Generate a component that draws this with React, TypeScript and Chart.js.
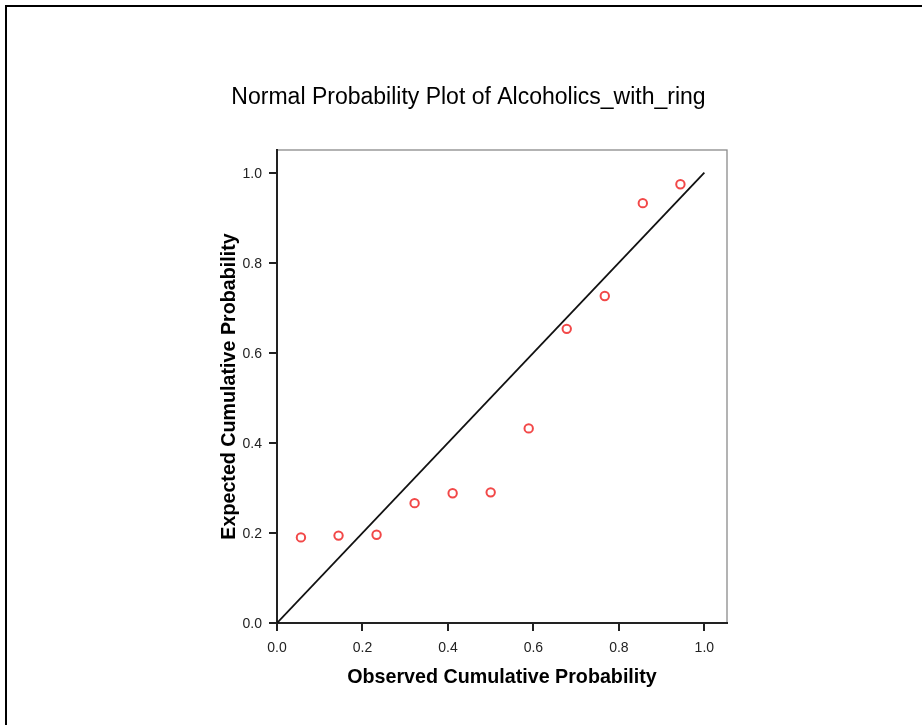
import React, { useEffect, useRef } from "react";
import { Chart, registerables } from "chart.js";

Chart.register(...registerables);

const chartTitle = "Normal Probability Plot of Alcoholics_with_ring";
const xTitle = "Observed Cumulative Probability";
const yTitle = "Expected Cumulative Probability";

const observed = [0.056, 0.144, 0.233, 0.322, 0.411, 0.5, 0.589, 0.678, 0.767, 0.856, 0.944];
const expected = [0.19, 0.194, 0.196, 0.266, 0.288, 0.29, 0.432, 0.653, 0.726, 0.932, 0.974];
const refLineX = [0, 1];
const refLineY = [0, 1];
const xTicks = [0, 0.2, 0.4, 0.6, 0.8, 1.0];
const yTicks = [0, 0.2, 0.4, 0.6, 0.8, 1.0];

const FONT = "'Liberation Sans', Arial, sans-serif";

export default function App() {
  const ref = useRef<HTMLCanvasElement | null>(null);

  useEffect(() => {
    if (!ref.current) return;
    const framePlugin = {
      id: "frame",
      beforeDraw(chart: any) {
        const { ctx, chartArea } = chart;
        ctx.save();
        ctx.fillStyle = "#000";
        ctx.fillRect(5, 5, 2, 725);
        ctx.fillRect(5, 5, 922, 2);
        ctx.strokeStyle = "#8a8a8a";
        ctx.lineWidth = 1.3;
        ctx.strokeRect(chartArea.left, chartArea.top, chartArea.right - chartArea.left, chartArea.bottom - chartArea.top);
        ctx.restore();
      },
    };

    const chart = new Chart(ref.current, {
      type: "scatter",
      data: {
        datasets: [
          {
            type: "line",
            data: refLineX.map((x, i) => ({ x, y: refLineY[i] })),
            borderColor: "#111",
            borderWidth: 1.8,
            pointRadius: 0,
            fill: false,
          } as any,
          {
            type: "scatter",
            data: observed.map((x, i) => ({ x, y: expected[i] })),
            borderColor: "rgb(242,72,72)",
            backgroundColor: "rgba(0,0,0,0)",
            pointRadius: 4.2,
            pointBorderWidth: 2,
            pointStyle: "circle",
          },
        ],
      },
      options: {
        animation: false,
        responsive: false,
        devicePixelRatio: 1,
        layout: { padding: { top: 0, left: 210, right: 195, bottom: 29 } },
        plugins: {
          legend: { display: false },
          tooltip: { enabled: false },
          title: {
            display: true,
            text: chartTitle,
            color: "#000",
            font: { family: FONT, size: 23, weight: "normal" },
            padding: { top: 84, bottom: 38.4 },
          },
        },
        scales: {
          x: {
            type: "linear",
            min: 0,
            max: 1.053,
            afterBuildTicks: (s: any) => {
              s.ticks = xTicks.map((v) => ({ value: v }));
            },
            afterFit: (s: any) => {
              s.height = 725 - 29 - 623;
            },
            ticks: {
              color: "#222",
              font: { family: FONT, size: 14 },
              padding: 9,
              maxRotation: 0,
              callback: (v: any) => Number(v).toFixed(1),
            },
            grid: { drawOnChartArea: false, drawTicks: true, tickLength: 8, color: "#222", lineWidth: 2 },
            border: { display: true, color: "#222", width: 2 },
            title: {
              display: true,
              text: xTitle,
              color: "#000",
              font: { family: FONT, size: 19.7, weight: "bold" },
              padding: { top: 0, bottom: 7 },
            },
          },
          y: {
            type: "linear",
            min: 0,
            max: 1.05,
            afterBuildTicks: (s: any) => {
              s.ticks = yTicks.map((v) => ({ value: v }));
            },
            afterFit: (s: any) => {
              s.width = 277 - 210;
            },
            ticks: {
              color: "#222",
              font: { family: FONT, size: 14 },
              padding: 7,
              labelOffset: 1.5,
              callback: (v: any) => Number(v).toFixed(1),
            },
            grid: { drawOnChartArea: false, drawTicks: true, tickLength: 8, color: "#222", lineWidth: 2 },
            border: { display: true, color: "#222", width: 2 },
            title: {
              display: true,
              text: yTitle,
              color: "#000",
              font: { family: FONT, size: 19.7, weight: "bold" },
              padding: { top: 8, bottom: 0 },
            },
          },
        },
      },
      plugins: [framePlugin],
    } as any);
    return () => chart.destroy();
  }, []);

  return (
    <div style={{ position: "absolute", left: 0, top: 0, width: 922, height: 725, background: "#fff" }}>
      <canvas ref={ref} width={922} height={725} style={{ display: "block", width: 922, height: 725 }} />
    </div>
  );
}
